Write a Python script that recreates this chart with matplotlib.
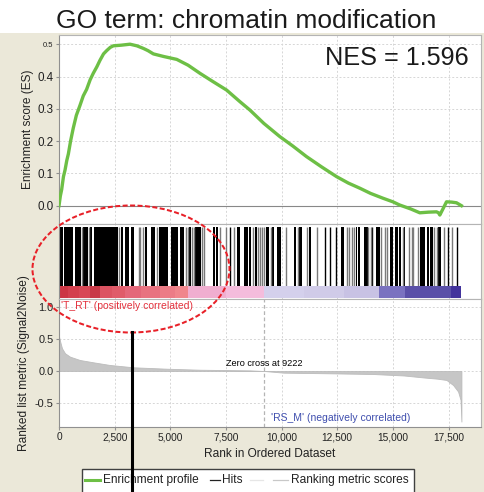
import matplotlib
matplotlib.use("Agg")
import matplotlib.pyplot as plt
from matplotlib.patches import Rectangle, Ellipse
from matplotlib.lines import Line2D

plt.rcParams['font.family'] = ['Liberation Sans', 'DejaVu Sans']

# ---------------- data ----------------
title = "GO term: chromatin modification"
nes_text = "NES = 1.596"
n_genes = 18080
zero_cross = 9222

es_rank = [0, 60, 120, 200, 270, 350, 420, 520, 640, 780, 940, 1090, 1240, 1400, 1540, 1700,
           1840, 2000, 2140, 2300, 2440, 2800, 3190, 3500, 3790, 4000, 4240, 4700, 5290, 5800,
           6330, 6900, 7530, 8130, 8580, 9200, 9920, 10500, 11120, 11800, 12470, 13000, 13520,
           14000, 14560, 15000, 15310, 15800, 16210, 16600, 16960, 17050, 17110, 17250, 17410,
           17650, 17860, 18080]
es_val = [0.0, 0.03, 0.05, 0.09, 0.11, 0.14, 0.16, 0.2, 0.24, 0.28, 0.31, 0.34, 0.36, 0.39, 0.41,
          0.43, 0.45, 0.47, 0.48, 0.49, 0.495, 0.497, 0.50, 0.495, 0.487, 0.48, 0.47, 0.462, 0.453,
          0.435, 0.41, 0.385, 0.358, 0.322, 0.296, 0.255, 0.214, 0.185, 0.152, 0.12, 0.09, 0.07,
          0.054, 0.038, 0.023, 0.012, 0.002, -0.01, -0.022, -0.02, -0.019, -0.022, -0.029, -0.01,
          0.012, 0.011, 0.009, 0.0]

met_rank = [0, 40, 75, 135, 270, 495, 940, 1540, 2290, 3340, 4835, 6330, 8580, 9222, 10100,
            12000, 14115, 15500, 16360, 17000, 17410, 17710, 17930, 18040, 18080]
met_val = [0.54, 0.48, 0.43, 0.355, 0.277, 0.224, 0.172, 0.136, 0.094, 0.058, 0.036, 0.02, 0.01,
           0.0, -0.026, -0.035, -0.047, -0.07, -0.1, -0.12, -0.14, -0.22, -0.32, -0.45, -0.79]

# dense runs of hits (start rank, end rank)
hit_span_start = [30, 225, 705, 1080, 1390, 1570, 2770, 2975, 3220, 3850, 4145, 4475, 5015, 5435,
                  5825, 6120, 6915, 7060, 8005, 8305, 8520, 8785, 9310, 9565, 9800, 10550, 10790,
                  11210, 12650, 13350, 13455, 13725, 14250, 14890, 15100, 15280, 15520, 16210,
                  16535, 16670, 17050]
hit_span_end = [165, 615, 975, 1300, 1480, 2650, 2890, 3130, 3370, 3965, 4325, 4895, 5345, 5615,
                5915, 6390, 6990, 7140, 8110, 8470, 8635, 8905, 9415, 9655, 9955, 10670, 10910,
                11300, 12800, 13395, 13545, 13875, 14400, 14995, 15220, 15370, 15565, 16450,
                16640, 16790, 17165]
hit_single_dark = [7690, 11930, 12180, 12450, 14085, 17465, 17870]
hit_single_faint = [1035, 1355, 2710, 3590, 3660, 3770, 4400, 5700, 5790, 5970, 6060, 6420, 6520,
                    7215, 7510, 7845, 8710, 8935, 9020, 9110, 9200, 9505, 10190, 10730, 11135,
                    11585, 12945, 13050, 13150, 13275, 13905, 14010, 14445, 14650, 14750, 15445,
                    15745, 15850, 15895, 16120, 16870, 16970, 17285, 17645]

bar_edges = [0, 400, 900, 1400, 1840, 2400, 2960, 3700, 4535, 5200, 5790, 7500, 9222, 11000,
             12800, 14370, 15540, 17600, 18080]
bar_colors = ['#cc3644', '#d3404e', '#d84856', '#c83a48', '#dc5462', '#e05c6a', '#e4687a',
              '#e87280', '#ec7c86', '#f0868c', '#f0aed0', '#f4bcdc', '#d4d0ec', '#d0cbe8',
              '#c8c2e4', '#7a72c0', '#5a50a8', '#42339c']

x_ticks = [0, 2500, 5000, 7500, 10000, 12500, 15000, 17500]
x_ticklabels = ['0', '2,500', '5,000', '7,500', '10,000', '12,500', '15,000', '17,500']
es_ticks = [0.0, 0.1, 0.2, 0.3, 0.4, 0.5]
es_ticklabels = ['0.0', '0.1', '0.2', '0.3', '0.4', '0.5']
met_ticks = [-0.5, 0.0, 0.5, 1.0]
met_ticklabels = ['-0.5', '0.0', '0.5', '1.0']

legend_labels = ['Enrichment profile', 'Hits', '', 'Ranking metric scores']

# ---------------- layout ----------------
W, H = 484, 492
fig = plt.figure(figsize=(W / 100, H / 100), dpi=100, facecolor='white')


def box(x0, y0, x1, y1):
    return [x0 / W, 1 - y1 / H, (x1 - x0) / W, (y1 - y0) / H]


def fx(x):
    return x / W


def fy(y):
    return 1 - y / H


BEIGE = '#ebe8d9'
fig.patches.append(Rectangle((0, 0), 1, fy(33), transform=fig.transFigure,
                             facecolor=BEIGE, edgecolor='none', zorder=-10))

XMAX = 18960
AX_L, AX_R = 59, 481
ax_es = fig.add_axes(box(AX_L, 35, AX_R, 224))
ax_hit = fig.add_axes(box(AX_L, 224, AX_R, 299))
ax_met = fig.add_axes(box(AX_L, 299, AX_R, 426.7))

SPINE = '#b4b4b4'
GRID = dict(color='#d6d6d6', linestyle=(0, (2, 2)), linewidth=0.7)
for ax in (ax_es, ax_hit, ax_met):
    ax.set_facecolor('white')
    ax.set_xlim(0, XMAX)
    for s in ax.spines.values():
        s.set_color(SPINE)
        s.set_linewidth(0.8)
    ax.tick_params(length=2, color='#909090', labelcolor='#222222', pad=2)
    for xt in x_ticks[1:]:
        ax.axvline(xt, zorder=0, **GRID)

# ES panel
ax_es.set_ylim(-0.0567, 0.5285)
ax_es.set_xticks(x_ticks)
ax_es.tick_params(axis='x', labelbottom=False, length=0)
ax_es.set_yticks(es_ticks)
ax_es.set_yticklabels(es_ticklabels, fontsize=8.4)
ax_es.get_yticklabels()[-1].set_fontsize(5.5)
for yt in es_ticks[1:]:
    ax_es.axhline(yt, zorder=0, **GRID)
ax_es.axhline(0, color='#888888', lw=0.8, zorder=1)
ax_es.plot(es_rank, es_val, color='#6dbf45', lw=2.4, zorder=3, solid_joinstyle='round')
ax_es.set_ylabel('Enrichment score (ES)', fontsize=8.6, color='#222222')
ax_es.spines['left'].set_color('#909090')

# hits panel
ax_hit.set_ylim(0, 1)
ax_hit.set_yticks([])
ax_hit.set_xticks([])
ax_hit.spines['left'].set_color('#909090')
span_w = [e - s for s, e in zip(hit_span_start, hit_span_end)]
ax_hit.bar(hit_span_start, 0.79, width=span_w, bottom=0.173, align='edge',
           color='black', linewidth=0, zorder=2)
ax_hit.vlines(hit_single_dark, 0.173, 0.963, color='black', lw=1.0, zorder=2)
ax_hit.vlines(hit_single_faint, 0.173, 0.963, color='#7a7a7a', lw=1.0, zorder=2)
bar_w = [bar_edges[i + 1] - bar_edges[i] for i in range(len(bar_colors))]
ax_hit.bar(bar_edges[:-1], 0.165, width=bar_w, bottom=0.01, align='edge',
           color=bar_colors, linewidth=0, zorder=2)

# ranked metric panel
ax_met.set_ylim(-0.87, 1.125)
ax_met.set_xticks(x_ticks)
ax_met.set_xticklabels(x_ticklabels, fontsize=7.3)
ax_met.set_yticks(met_ticks)
ax_met.set_yticklabels(met_ticklabels, fontsize=7.9)
for yt in met_ticks:
    ax_met.axhline(yt, zorder=0, **GRID)
ax_met.fill_between(met_rank, met_val, 0, color='#c6c6c6', linewidth=0.6,
                    edgecolor='#bcbcbc', zorder=2)
ax_met.axvline(zero_cross, color='#b4b4b4', linestyle=(0, (3, 2)), lw=0.9, zorder=1)
ax_met.text(zero_cross, 0.11, 'Zero cross at %d' % zero_cross, fontsize=6.6,
            ha='center', va='center', color='black', zorder=4)
ax_met.text(90, 1.016, "'T_RT' (positively correlated)", fontsize=7.5,
            ha='left', va='center', color='#e3303c', zorder=4)
ax_met.text(9510, -0.74, "'RS_M' (negatively correlated)", fontsize=7.5,
            ha='left', va='center', color='#3f4eae', zorder=4)
ax_met.set_xlabel('Rank in Ordered Dataset', fontsize=8.6, color='#222222', labelpad=4)
ax_met.set_ylabel('Ranked list metric (Signal2Noise)', fontsize=8.6, color='#222222')
ax_met.spines['left'].set_color('#909090')
ax_met.spines['bottom'].set_color('#909090')

# y label positions (anchor = right side of rotated label)
ax_es.yaxis.set_label_coords((33.5 - AX_L) / (AX_R - AX_L), 0.5)
ax_met.yaxis.set_label_coords((30.5 - AX_L) / (AX_R - AX_L), 0.5)

# titles
fig.text(fx(246), fy(27.5), title, ha='center', va='baseline', fontsize=19, color='#1a1a1a')
fig.text(fx(469), fy(65), nes_text, ha='right', va='baseline', fontsize=18.2, color='#1a1a1a')

# legend box (manual)
fig.patches.append(Rectangle((fx(82), -0.02), fx(414 - 82), fy(469) + 0.02,
                             transform=fig.transFigure, facecolor='white',
                             edgecolor='#404040', lw=1.0, zorder=5))
leg_y = fy(480)
leg_items = [(85, 100, '#6dbf45', 2.2, 103, legend_labels[0]),
             (210, 220, '#222222', 0.9, 222, legend_labels[1]),
             (250, 263, '#e6e6e6', 0.9, 265, legend_labels[2]),
             (273, 288, '#c8c8c8', 0.9, 291, legend_labels[3])]
for x0, x1, c, lw, tx, lab in leg_items:
    fig.lines.append(Line2D([fx(x0), fx(x1)], [leg_y, leg_y], transform=fig.transFigure,
                            color=c, lw=lw, zorder=6))
    if lab:
        fig.text(fx(tx), leg_y, lab, ha='left', va='center', fontsize=8.6,
                 color='#222222', zorder=6)

# annotation: dashed ellipse and pointer line
fig.patches.append(Ellipse((fx(131), fy(269)), fx(197), 127 / H,
                           transform=fig.transFigure, fill=False, edgecolor='#e82028',
                           lw=1.45, linestyle=(0, (2.5, 1.2)), zorder=10))
fig.lines.append(Line2D([fx(131.5), fx(131.5)], [fy(332), 0], transform=fig.transFigure,
                        color='black', lw=2.2, zorder=11))

fig.savefig('out.png', dpi=100, facecolor='white')
